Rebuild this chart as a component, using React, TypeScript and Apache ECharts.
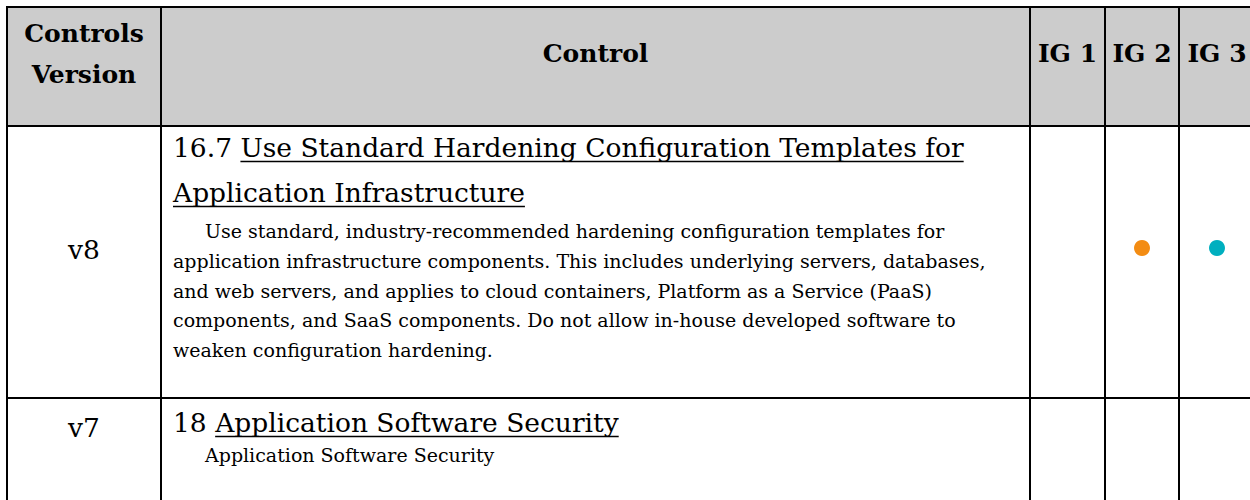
import React, { useEffect, useRef } from "react";
import * as echarts from "echarts";

// ---------- data ----------
const headerLabels: string[][] = [["Controls", "Version"], ["Control"], ["IG 1"], ["IG 2"], ["IG 3"]];
const versions = ["v8", "v7"];
const controlNumbers = ["16.7", "18"];
const controlTitleLines: string[][] = [
  ["Use Standard Hardening Configuration Templates for", "Application Infrastructure"],
  ["Application Software Security"],
];
const controlDescLines: string[][] = [
  [
    "Use standard, industry-recommended hardening configuration templates for",
    "application infrastructure components. This includes underlying servers, databases,",
    "and web servers, and applies to cloud containers, Platform as a Service (PaaS)",
    "components, and SaaS components. Do not allow in-house developed software to",
    "weaken configuration hardening.",
  ],
  ["Application Software Security"],
];
const ig1Marks = [false, false];
const ig2Marks = [true, false];
const ig3Marks = [true, false];
const igColors = ["#F38C13", "#F38C13", "#00AFBF"];

// ---------- layout ----------
const FONT = '"DejaVu Serif", "Liberation Serif", serif';
const colEdges = [7, 161, 1030, 1105, 1179, 1255];
const rowEdges = [7, 126, 398, 560];
const headerFs = 25;
const titleFs = 26.5;
const bodyFs = 19;
const versionFs = 26.5;
const textX = 173;
const indentX = 205;
const rowLayouts = [
  { markY: 248, versionBase: 259, titleBases: [157, 202], descBases: [238, 268, 297.5, 327, 357] },
  { markY: 428, versionBase: 437, titleBases: [432], descBases: [462] },
];

const ctx = typeof document !== "undefined" ? document.createElement("canvas").getContext("2d") : null;
function measure(text: string, font: string): number {
  if (!ctx) return text.length * 10;
  ctx.font = font;
  return ctx.measureText(text).width;
}
const mid = (base: number, fs: number) => base - 0.346 * fs;

function txt(text: string, x: number, y: number, font: string, align = "left") {
  return {
    type: "text",
    silent: true,
    style: {
      text,
      x,
      y,
      font,
      fill: "#000",
      textAlign: align,
      align,
      textVerticalAlign: "middle",
      verticalAlign: "middle",
    },
  };
}

function buildElements() {
  const els: any[] = [];
  const left = colEdges[0];
  const right = colEdges[colEdges.length - 1];
  const top = rowEdges[0];
  const bottom = rowEdges[rowEdges.length - 1];
  // header fill
  els.push({
    type: "rect",
    silent: true,
    shape: { x: left, y: top, width: right - left, height: rowEdges[1] - top },
    style: { fill: "#CCCCCC" },
  });
  // header texts
  const hFont = `bold ${headerFs}px ${FONT}`;
  headerLabels.forEach((lines, i) => {
    const cx = (colEdges[i] + colEdges[i + 1]) / 2;
    const bases = lines.length === 2 ? [42, 83] : [62];
    lines.forEach((l, j) => els.push(txt(l, cx, mid(bases[j], headerFs), hFont, "center")));
  });
  // body rows
  const tFont = `${titleFs}px ${FONT}`;
  const bFont = `${bodyFs}px ${FONT}`;
  const vFont = `${versionFs}px ${FONT}`;
  const marks = [ig1Marks, ig2Marks, ig3Marks];
  versions.forEach((v, r) => {
    const L = rowLayouts[r];
    els.push(txt(v, (colEdges[0] + colEdges[1]) / 2, mid(L.versionBase, versionFs), vFont, "center"));
    controlTitleLines[r].forEach((line, j) => {
      const prefix = j === 0 ? controlNumbers[r] + " " : "";
      const full = prefix + line;
      els.push(txt(full, textX, mid(L.titleBases[j], titleFs), tFont));
      const ux1 = textX + measure(prefix, tFont);
      const ux2 = textX + measure(full, tFont);
      const uy = L.titleBases[j] + 4.5;
      els.push({
        type: "line",
        silent: true,
        shape: { x1: ux1, y1: uy, x2: ux2, y2: uy },
        style: { stroke: "#000", lineWidth: 1.6 },
      });
    });
    controlDescLines[r].forEach((line, j) => {
      els.push(txt(line, j === 0 ? indentX : textX, mid(L.descBases[j], bodyFs), bFont));
    });
    marks.forEach((m, k) => {
      if (m[r]) {
        els.push({
          type: "circle",
          silent: true,
          shape: { cx: (colEdges[k + 2] + colEdges[k + 3]) / 2, cy: L.markY, r: 8 },
          style: { fill: igColors[k] },
        });
      }
    });
  });
  // grid lines
  rowEdges.forEach((y) =>
    els.push({
      type: "line",
      silent: true,
      shape: { x1: left - 1, y1: y, x2: right + 1, y2: y },
      style: { stroke: "#000", lineWidth: 2 },
    })
  );
  colEdges.forEach((x) =>
    els.push({
      type: "line",
      silent: true,
      shape: { x1: x, y1: top - 1, x2: x, y2: bottom },
      style: { stroke: "#000", lineWidth: 2 },
    })
  );
  return els;
}

export default function App() {
  const ref = useRef<HTMLDivElement>(null);
  useEffect(() => {
    if (!ref.current) return;
    const chart = echarts.init(ref.current, undefined, { renderer: "svg" });
    chart.setOption({ animation: false, backgroundColor: "#ffffff", graphic: buildElements() });
    return () => chart.dispose();
  }, []);
  return (
    <div
      ref={ref}
      style={{ position: "fixed", left: 0, top: 0, width: 1250, height: 500, background: "#fff" }}
    />
  );
}
